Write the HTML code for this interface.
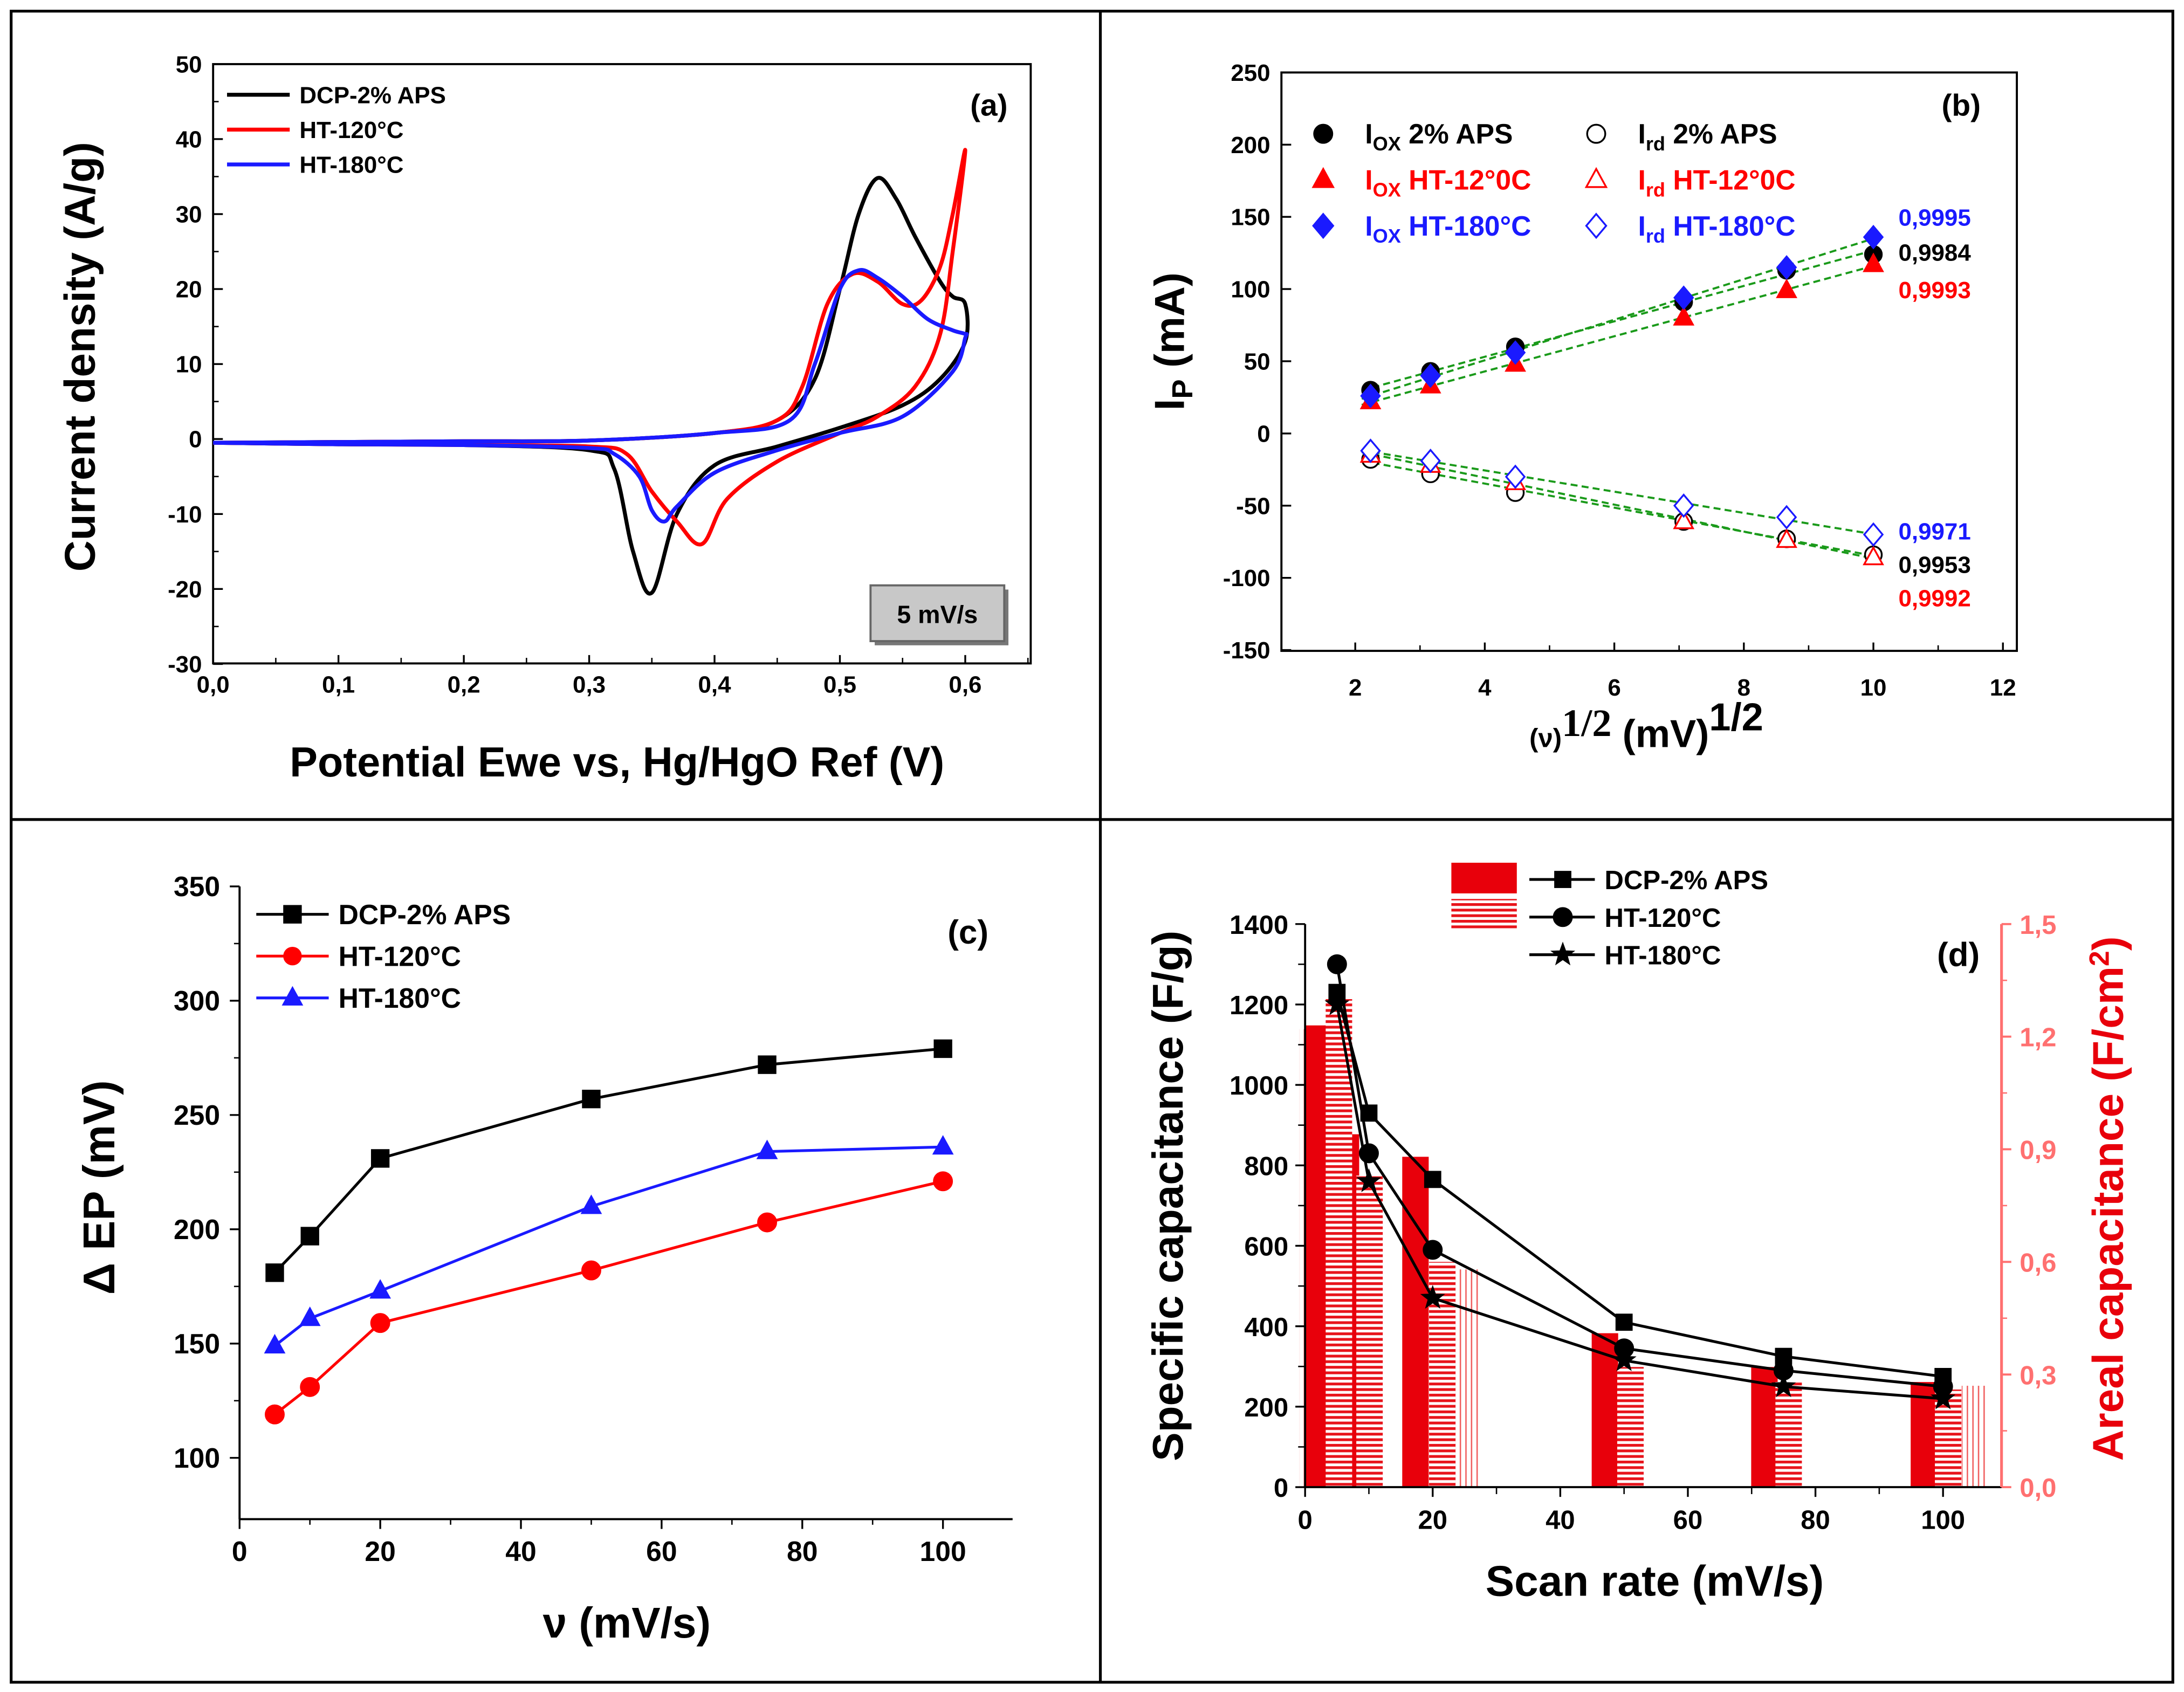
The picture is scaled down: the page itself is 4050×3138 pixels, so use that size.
<!DOCTYPE html>
<html><head><meta charset="utf-8"><style>
html,body{margin:0;padding:0;background:#fff}
svg{display:block}
text{font-family:"Liberation Sans",Arial,sans-serif;font-weight:bold}
</style></head><body>
<svg id="fig" width="4050" height="3138" viewBox="0 0 1568 1214" preserveAspectRatio="none" xmlns="http://www.w3.org/2000/svg">
<defs>
<pattern id="hatch" width="4" height="4" patternUnits="userSpaceOnUse"><rect width="4" height="4" fill="#fff"/><rect width="4" height="2" fill="#e8141b"/></pattern>
<pattern id="dots" width="4" height="4" patternUnits="userSpaceOnUse"><rect width="4" height="4" fill="#fff"/><rect width="1" height="4" fill="#f06060"/></pattern>
</defs>
<rect x="8" y="8" width="1552" height="1199" fill="none" stroke="#000" stroke-width="2"/>
<line x1="790" y1="8" x2="790" y2="1207" stroke="#000" stroke-width="2"/>
<line x1="8" y1="588" x2="1560" y2="588" stroke="#000" stroke-width="2"/>
<g id="g"></g>
</svg>
<script>
// ---------- Panel (a) data ----------
const aSeriesNames=["DCP-2% APS","HT-120°C","HT-180°C"];
const aBlackE=[0,0.1,0.2,0.3,0.4,0.45,0.48,0.5,0.515,0.53,0.545,0.56,0.58,0.59,0.6,0.6,0.58,0.55,0.5,0.45,0.4,0.37,0.35,0.335,0.32,0.3,0.2,0.1,0];
const aBlackJ=[-0.5,-0.4,-0.3,-0.2,0.8,2.5,8,20,30,34.8,32,27,21,19,18,13,8,4.5,1.5,-1,-3.5,-10,-20.5,-15,-4,-1.5,-0.8,-0.7,-0.5];
const aRedE=[0,0.1,0.2,0.3,0.4,0.45,0.47,0.49,0.51,0.53,0.55,0.565,0.58,0.59,0.6,0.59,0.58,0.56,0.53,0.5,0.45,0.41,0.39,0.37,0.35,0.33,0.3,0.2,0.1,0];
const aRedJ=[-0.5,-0.4,-0.3,-0.2,0.8,2.5,7,18,22,21,18,18.5,23,30,38.5,25,14,7,3,0.8,-3,-8,-14,-11,-7,-2,-1,-0.8,-0.7,-0.5];
const aBlueE=[0,0.1,0.2,0.3,0.4,0.46,0.48,0.5,0.515,0.53,0.55,0.57,0.59,0.6,0.6,0.59,0.55,0.5,0.45,0.4,0.37,0.36,0.35,0.34,0.32,0.3,0.2,0.1,0];
const aBlueJ=[-0.5,-0.4,-0.3,-0.2,0.8,2.5,10,20,22.5,21.5,19,16,14.5,14,13.5,9,3,0.8,-1.5,-4.5,-9,-11,-9.5,-5,-2,-1.2,-0.8,-0.7,-0.5];
const aXTicks=[0,0.1,0.2,0.3,0.4,0.5,0.6];
const aYTicks=[-30,-20,-10,0,10,20,30,40,50];
// ---------- Panel (b) data ----------
const bX=[2.236,3.162,4.472,7.071,8.66,10];
const bIoxAPS=[30,43,60,91,113,124];
const bIoxHT120=[22,33,48,80,99,117];
const bIoxHT180=[26,40,56,94,115,136];
const bIrdAPS=[-18,-28,-41,-61,-73,-84];
const bIrdHT120=[-15,-22,-34,-61,-74,-86];
const bIrdHT180=[-12,-19,-30,-50,-58,-70];
const bR2Labels=["0,9995","0,9984","0,9993","0,9971","0,9953","0,9992"];
const bXTicks=[2,4,6,8,10,12];
const bYTicks=[-150,-100,-50,0,50,100,150,200,250];
// ---------- Panel (c) data ----------
const cX=[5,10,20,50,75,100];
const cDCP=[181,197,231,257,272,279];
const cHT120=[119,131,159,182,203,221];
const cHT180=[149,161,173,210,234,236];
const cXTicks=[0,20,40,60,80,100];
const cYTicks=[100,150,200,250,300,350];
// ---------- Panel (d) data ----------
const dX=[5,10,20,50,75,100];
const dDCP=[1230,930,765,410,325,275];
const dHT120=[1300,830,590,345,290,250];
const dHT180=[1200,760,470,315,250,220];
const dSolidX=[2.2,6.4,17.3,47,72,97];
const dSolidV=[1.23,0.94,0.88,0.41,0.32,0.28];
const dHatchX=[5.3,10.1,21.5,51,75.8,100.8];
const dHatchV=[1.30,0.83,0.60,0.32,0.28,0.26];
const dDotX=[1.2,25.3,105];
const dDotV=[1.22,0.58,0.27];
const dXTicks=[0,20,40,60,80,100];
const dYTicks=[0,200,400,600,800,1000,1200,1400];
const dY2Ticks=["0,0","0,3","0,6","0,9","1,2","1,5"];
const dY2Vals=[0,0.3,0.6,0.9,1.2,1.5];

const NS="http://www.w3.org/2000/svg";
const G=document.getElementById('g');
function el(tag,attrs,txt){const e=document.createElementNS(NS,tag);for(const k in attrs)e.setAttribute(k,attrs[k]);if(txt!==undefined)e.textContent=txt;G.appendChild(e);return e;}
function lin(d0,d1,p0,p1){return v=>p0+(v-d0)*(p1-p0)/(d1-d0);}
function fmt(v,dec){return v.toFixed(dec).replace('.',',');}
function smooth(pts){let d='M'+pts[0][0]+','+pts[0][1];for(let i=0;i<pts.length-1;i++){const p0=pts[i-1]||pts[i],p1=pts[i],p2=pts[i+1],p3=pts[i+2]||p2;const c1x=p1[0]+(p2[0]-p0[0])/6,c1y=p1[1]+(p2[1]-p0[1])/6,c2x=p2[0]-(p3[0]-p1[0])/6,c2y=p2[1]-(p3[1]-p1[1])/6;d+=` C${c1x},${c1y} ${c2x},${c2y} ${p2[0]},${p2[1]}`;}return d;}
function marker(shape,x,y,fill,stroke,size){
 let e;
 if(shape==='circle')e=el('circle',{cx:x,cy:y,r:size,fill:fill,stroke:stroke,'stroke-width':1.3});
 else if(shape==='square')e=el('rect',{x:x-size,y:y-size,width:2*size,height:2*size,fill:fill,stroke:stroke,'stroke-width':1.3});
 else if(shape==='tri')e=el('polygon',{points:`${x},${y-size*1.2} ${x-size*1.1},${y+size*0.8} ${x+size*1.1},${y+size*0.8}`,fill:fill,stroke:stroke,'stroke-width':1.3});
 else if(shape==='diamond')e=el('polygon',{points:`${x},${y-size*1.3} ${x+size*1.1},${y} ${x},${y+size*1.3} ${x-size*1.1},${y}`,fill:fill,stroke:stroke,'stroke-width':1.3});
 else if(shape==='star'){let p=[];for(let i=0;i<10;i++){const r=i%2?size*0.45:size*1.1,a=-Math.PI/2+i*Math.PI/5;p.push((x+r*Math.cos(a)).toFixed(1)+','+(y+r*Math.sin(a)).toFixed(1));}e=el('polygon',{points:p.join(' '),fill:fill,stroke:stroke,'stroke-width':0.8});}
 return e;
}

// ===== Panel (a) =====
(function(){
 const X=lin(0,0.6,153,693),Y=lin(0,50,315,46);
 const f=el('rect',{x:153,y:46,width:587,height:430,fill:'none',stroke:'#000','stroke-width':1.5});
 
 aXTicks.forEach(v=>{const x=X(v);el('line',{x1:x,y1:476,x2:x,y2:470,stroke:'#000','stroke-width':1.3});
  const t=el('text',{x:x,y:497,'font-size':17,'text-anchor':'middle'},fmt(v,1));});
 for(let v=0.05;v<0.65;v+=0.1){el('line',{x1:X(v),y1:476,x2:X(v),y2:472,stroke:'#000','stroke-width':1});}
 aYTicks.forEach(v=>{const y=Y(v);el('line',{x1:153,y1:y,x2:160,y2:y,stroke:'#000','stroke-width':1.3});
  const t=el('text',{x:145,y:y+6,'font-size':17,'text-anchor':'end'},String(v));});
 for(let v=-25;v<50;v+=10){el('line',{x1:153,y1:Y(v),x2:157,y2:Y(v),stroke:'#000','stroke-width':1});}
 const series=[[aBlackE,aBlackJ,'#000','cv-curve-dcp-2-aps'],[aRedE,aRedJ,'#ff0000','cv-curve-ht-120'],[aBlueE,aBlueJ,'#1a1aff','cv-curve-ht-180']];
 series.forEach(s=>{const pts=s[0].map((e,i)=>[X(e),Y(s[1][i])]);const p=el('path',{d:smooth(pts),fill:'none',stroke:s[2],'stroke-width':2.8});});
 aSeriesNames.forEach((n,i)=>{const y=68+i*25;const c=['#000','#ff0000','#1a1aff'][i];el('line',{x1:163,y1:y,x2:208,y2:y,stroke:c,'stroke-width':2.8});
  const t=el('text',{x:215,y:y+6,'font-size':17},n);});
 const lab=el('text',{x:710,y:83,'font-size':22,'text-anchor':'middle'},'(a)');
 el('rect',{x:628,y:423,width:96,height:40,fill:'#777'});
 const bx=el('rect',{x:625,y:420,width:96,height:40,fill:'#c8c8c8',stroke:'#666','stroke-width':1.5});
 el('text',{x:673,y:447,'font-size':18,'text-anchor':'middle'},'5 mV/s');
 const xt=el('text',{x:443,y:557,'font-size':30,'text-anchor':'middle'},'Potential Ewe vs, Hg/HgO Ref (V)');
 const yt=el('text',{x:68,y:256,'font-size':31,'text-anchor':'middle',transform:'rotate(-90 68 256)'},'Current density (A/g)');
})();

// ===== Panel (b) =====
(function(){
 const X=lin(2,12,973,1438),Y=lin(0,250,311,52);
 const f=el('rect',{x:920,y:52,width:528,height:415,fill:'none',stroke:'#000','stroke-width':1.5});
 bXTicks.forEach(v=>{const x=X(v);el('line',{x1:x,y1:467,x2:x,y2:461,stroke:'#000','stroke-width':1.3});
  const t=el('text',{x:x,y:499,'font-size':17,'text-anchor':'middle'},String(v));});
 for(let v=3;v<12;v+=2){el('line',{x1:X(v),y1:467,x2:X(v),y2:463,stroke:'#000','stroke-width':1});}
 bYTicks.forEach(v=>{const y=Y(v);el('line',{x1:920,y1:y,x2:927,y2:y,stroke:'#000','stroke-width':1.3});
  const t=el('text',{x:912,y:y+6,'font-size':17,'text-anchor':'end'},String(v));});
 const ser=[[bIoxAPS,'circle','#000','#000'],[bIoxHT120,'tri','#ff0000','#ff0000'],[bIoxHT180,'diamond','#1a1aff','#1a1aff'],[bIrdAPS,'circle','#fff','#000'],[bIrdHT120,'tri','#fff','#ff0000'],[bIrdHT180,'diamond','#fff','#1a1aff']];
 ser.forEach((s,k)=>{
  const n=bX.length,mx=bX.reduce((a,b)=>a+b)/n,my=s[0].reduce((a,b)=>a+b)/n;let sxy=0,sxx=0;bX.forEach((x,i)=>{sxy+=(x-mx)*(s[0][i]-my);sxx+=(x-mx)*(x-mx);});const m=sxy/sxx,c=my-m*mx;
  const l=el('line',{x1:X(2.1),y1:Y(m*2.1+c),x2:X(10.1),y2:Y(m*10.1+c),stroke:'#1a9a1a','stroke-width':1.5,'stroke-dasharray':'5,3'});
 });
 ser.forEach((s,k)=>{s[0].forEach((v,i)=>{const mk=marker(s[1],X(bX[i]),Y(v),s[2],s[3],6);});});
 const leg=[[950,96,'circle','#000','#000','I','OX',' 2% APS','#000'],[950,129,'tri','#ff0000','#ff0000','I','OX',' HT-12°0C','#ff0000'],[950,162,'diamond','#1a1aff','#1a1aff','I','OX',' HT-180°C','#1a1aff'],
  [1146,96,'circle','#fff','#000','I','rd',' 2% APS','#000'],[1146,129,'tri','#fff','#ff0000','I','rd',' HT-12°0C','#ff0000'],[1146,162,'diamond','#fff','#1a1aff','I','rd',' HT-180°C','#1a1aff']];
 leg.forEach(L=>{marker(L[2],L[0],L[1],L[3],L[4],6.5);const t=el('text',{x:L[0]+30,y:L[1]+7,'font-size':20,fill:L[8]});
  const a=document.createElementNS(NS,'tspan');a.textContent=L[5];t.appendChild(a);const b=document.createElementNS(NS,'tspan');b.setAttribute('dy','5');b.setAttribute('font-size','14');b.textContent=L[6];t.appendChild(b);const c=document.createElementNS(NS,'tspan');c.setAttribute('dy','-5');c.textContent=L[7];t.appendChild(c);});
 const r2y=[156,181,208,381,405,429],r2c=['#1a1aff','#000','#ff0000','#1a1aff','#000','#ff0000'];
 bR2Labels.forEach((s,i)=>{const t=el('text',{x:1363,y:r2y[i]+6,'font-size':17,fill:r2c[i],'font-weight':'normal'},s);});
 const lab=el('text',{x:1408,y:83,'font-size':22,'text-anchor':'middle'},'(b)');
 const xt=el('text',{x:1182,y:536,'font-size':28,'text-anchor':'middle','font-weight':'normal'});
 xt.innerHTML='<tspan font-size="19" font-weight="bold">(ν)</tspan><tspan font-family="Liberation Serif" dy="-8">1/2</tspan><tspan dy="8" font-weight="bold"> (mV)</tspan><tspan dy="-12" font-weight="bold">1/2</tspan>';
 const yt=el('text',{x:850,y:245,'font-size':30,'text-anchor':'middle',transform:'rotate(-90 850 245)'});
 yt.innerHTML='I<tspan font-size="21" dy="6">P</tspan><tspan dy="-6">  (mA)</tspan>';
})();

// ===== Panel (c) =====
(function(){
 const X=lin(0,100,172,677),Y=lin(100,350,1046,636);
 el('line',{x1:172,y1:636,x2:172,y2:1090,stroke:'#000','stroke-width':1.5});
 el('line',{x1:172,y1:1090,x2:727,y2:1090,stroke:'#000','stroke-width':1.5});
 cXTicks.forEach(v=>{const x=X(v);el('line',{x1:x,y1:1090,x2:x,y2:1097,stroke:'#000','stroke-width':1.3});
  const t=el('text',{x:x,y:1120,'font-size':20,'text-anchor':'middle','font-weight':'normal'},String(v));});
 for(let v=10;v<110;v+=20)el('line',{x1:X(v),y1:1090,x2:X(v),y2:1094,stroke:'#000','stroke-width':1});
 cYTicks.forEach(v=>{const y=Y(v);el('line',{x1:165,y1:y,x2:172,y2:y,stroke:'#000','stroke-width':1.3});
  const t=el('text',{x:158,y:y+7,'font-size':20,'text-anchor':'end','font-weight':'normal'},String(v));});
 for(let v=125;v<350;v+=50)el('line',{x1:168,y1:Y(v),x2:172,y2:Y(v),stroke:'#000','stroke-width':1});
 const ser=[[cDCP,'square','#000','dcp-2-aps'],[cHT120,'circle','#ff0000','ht-120'],[cHT180,'tri','#1a1aff','ht-180']];
 ser.forEach(s=>{const pts=cX.map((x,i)=>X(x)+','+Y(s[0][i])).join(' ');const p=el('polyline',{points:pts,fill:'none',stroke:s[2],'stroke-width':2});
  cX.forEach((x,i)=>{const m=marker(s[1],X(x),Y(s[0][i]),s[2],s[2],s[1]==='circle'?6.5:6);});});
 ['DCP-2% APS','HT-120°C','HT-180°C'].forEach((n,i)=>{const y=656+i*30;const s=ser[i];el('line',{x1:184,y1:y,x2:236,y2:y,stroke:s[2],'stroke-width':2});marker(s[1],210,y,s[2],s[2],6);
  const t=el('text',{x:243,y:y+7,'font-size':20},n);});
 const lab=el('text',{x:695,y:677,'font-size':24,'text-anchor':'middle'},'(c)');
 const xt=el('text',{x:450,y:1175,'font-size':31,'text-anchor':'middle'},'ν  (mV/s)');
 const yt=el('text',{x:82,y:852,'font-size':32,'text-anchor':'middle',transform:'rotate(-90 82 852)'},'Δ EP (mV)');
})();

// ===== Panel (d) =====
(function(){
 const X=lin(0,100,937,1395),Y=lin(0,1400,1067,663),Y2=lin(0,1.5,1067,663);
 const bw=19;
 dDotX.forEach((x,i)=>{const r=el('rect',{x:X(x)-bw/2,y:Y2(dDotV[i]),width:bw,height:1067-Y2(dDotV[i]),fill:'url(#dots)'});});
 dSolidX.forEach((x,i)=>{const r=el('rect',{x:X(x)-bw/2,y:Y2(dSolidV[i]),width:bw,height:1067-Y2(dSolidV[i]),fill:'#e8000b'});});
 dHatchX.forEach((x,i)=>{const r=el('rect',{x:X(x)-bw/2,y:Y2(dHatchV[i]),width:bw,height:1067-Y2(dHatchV[i]),fill:'url(#hatch)'});});
 el('line',{x1:937,y1:663,x2:937,y2:1067,stroke:'#000','stroke-width':1.5});
 el('line',{x1:937,y1:1067,x2:1437,y2:1067,stroke:'#000','stroke-width':1.5});
 el('line',{x1:1437,y1:663,x2:1437,y2:1067,stroke:'#ff7070','stroke-width':2});
 dXTicks.forEach(v=>{const x=X(v);el('line',{x1:x,y1:1067,x2:x,y2:1074,stroke:'#000','stroke-width':1.3});
  const t=el('text',{x:x,y:1097,'font-size':19,'text-anchor':'middle','font-weight':'normal'},String(v));});
 for(let v=10;v<110;v+=20)el('line',{x1:X(v),y1:1067,x2:X(v),y2:1072,stroke:'#000','stroke-width':1});
 dYTicks.forEach(v=>{const y=Y(v);el('line',{x1:930,y1:y,x2:937,y2:y,stroke:'#000','stroke-width':1.3});
  const t=el('text',{x:925,y:y+7,'font-size':19,'text-anchor':'end','font-weight':'normal'},String(v));});
 for(let v=100;v<1400;v+=200)el('line',{x1:932,y1:Y(v),x2:937,y2:Y(v),stroke:'#000','stroke-width':1});
 dY2Vals.forEach((v,i)=>{const y=Y2(v);el('line',{x1:1437,y1:y,x2:1444,y2:y,stroke:'#ff7070','stroke-width':1.5});
  const t=el('text',{x:1450,y:y+7,'font-size':19,fill:'#ff7070','font-weight':'normal'},dY2Ticks[i]);});
 for(let v=0.15;v<1.5;v+=0.3)el('line',{x1:1437,y1:Y2(v),x2:1441,y2:Y2(v),stroke:'#ff7070','stroke-width':1});
 const ser=[[dDCP,'square',5.5,'dcp-2-aps'],[dHT120,'circle',6.5,'ht-120'],[dHT180,'star',7.5,'ht-180']];
 ser.forEach(s=>{const pts=dX.map((x,i)=>X(x)+','+Y(s[0][i])).join(' ');const p=el('polyline',{points:pts,fill:'none',stroke:'#000','stroke-width':2});
  dX.forEach((x,i)=>{const m=marker(s[1],X(x),Y(s[0][i]),'#000','#000',s[2]);});});
 el('rect',{x:1042,y:619,width:47,height:22,fill:'#e8000b'});
 el('rect',{x:1042,y:645,width:47,height:22,fill:'url(#hatch)'});
 ['DCP-2% APS','HT-120°C','HT-180°C'].forEach((n,i)=>{const y=631+i*27;const s=ser[i];el('line',{x1:1098,y1:y,x2:1145,y2:y,stroke:'#000','stroke-width':2});marker(s[1],1122,y,'#000','#000',s[2]);
  const t=el('text',{x:1152,y:y+7,'font-size':19},n);});
 const lab=el('text',{x:1406,y:693,'font-size':24,'text-anchor':'middle'},'(d)');
 const xt=el('text',{x:1188,y:1145,'font-size':31,'text-anchor':'middle'},'Scan rate (mV/s)');
 const yt=el('text',{x:849,y:858,'font-size':31,'text-anchor':'middle',transform:'rotate(-90 849 858)'},'Specific capacitance (F/g)');
 const y2=el('text',{x:1524,y:860,'font-size':31,'text-anchor':'middle',fill:'#e8000b',transform:'rotate(-90 1524 860)'});
 y2.innerHTML='Areal capacitance (F/cm<tspan font-size="20" dy="-10">2</tspan><tspan dy="10">)</tspan>';
})();
</script>
</body></html>
